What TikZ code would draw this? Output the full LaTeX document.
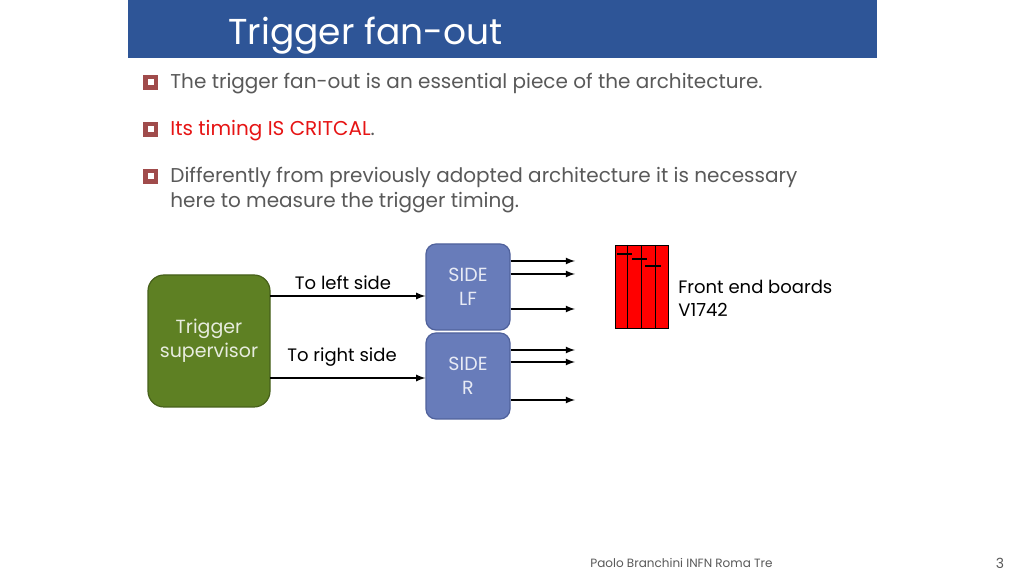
\documentclass[tikz,border=0pt]{standalone}
\usepackage{fontspec}
\setmainfont{Poppins}
\usetikzlibrary{positioning}
\definecolor{titleblue}{RGB}{46,85,151}
\definecolor{bulletred}{RGB}{160,75,75}
\definecolor{bodygray}{RGB}{89,89,89}
\definecolor{supgreen}{RGB}{94,128,35}
\definecolor{supedge}{RGB}{70,96,26}
\definecolor{sideblue}{RGB}{104,124,186}
\definecolor{sideedge}{RGB}{80,98,156}
\definecolor{critred}{RGB}{230,20,20}
\tikzset{
  bodytext/.style={anchor=base west, inner sep=0pt, text=bodygray, font=\fontsize{10}{12}\selectfont},
  sidebox/.style={draw=sideedge, fill=sideblue, rounded corners=5pt, minimum width=42pt, minimum height=43pt,
    text=white!85!sideblue, align=center, font=\fontsize{9.5}{12}\selectfont, line width=0.6pt},
  labeltext/.style={inner sep=0pt, font=\fontsize{9}{11}\selectfont},
  sig/.style={-latex, line width=0.6pt}
}
\newcommand{\bulletbox}[1]{%
  \fill[bulletred] (143,#1-7) rectangle (158,#1+8);
  \fill[white] (147.5,#1-2.5) rectangle (153.5,#1+3.5);}
\begin{document}
\begin{tikzpicture}[x=0.5pt,y=-0.5pt]
\useasboundingbox (0,0) rectangle (1024,576);
\fill[white] (0,0) rectangle (1024,576);

% Title bar
\fill[titleblue] (128,0) rectangle (877,58);
\node[anchor=base west, inner sep=0pt, text=white, font=\fontsize{18}{22}\selectfont] (title) at (228,45) {Trigger fan-out};

% Bullets
\bulletbox{82}
\node[bodytext] (b1) at (170,89) {The trigger fan-out is an essential piece of the architecture.};
\bulletbox{129}
\node[bodytext, text=critred] (b2) at (170,136) {Its timing IS CRITCAL\textcolor{bodygray}{.}};
\bulletbox{176}
\node[bodytext] (b3) at (170,183) {Differently from previously adopted architecture it is necessary};
\node[bodytext] (b3b) at (170,208) {here to measure the trigger timing.};

% Boxes
\node[draw=supedge, fill=supgreen, rounded corners=8pt, minimum width=61pt, minimum height=66pt,
  text=white!85!supgreen, align=center, font=\fontsize{9.5}{12}\selectfont, line width=0.6pt]
  (sup) at (209,341) {Trigger\\supervisor};
\node[sidebox] (lf) at (468,287) {SIDE\\LF};
\node[sidebox] (r) at (468,376) {SIDE\\R};

% Inputs
\draw[sig] (270,296) -- (lf.west |- 0,296);
\draw[sig] (270,378) -- (r.west |- 0,378);
\node[labeltext] (tl) at (343,283) {To left side};
\node[labeltext] (tr) at (342,357) {To right side};

% Outputs
\foreach \y in {261,274,309}{\draw[sig] (lf.east |- 0,\y) -- (575,\y);}
\foreach \y in {350,362,400}{\draw[sig] (r.east |- 0,\y) -- (575,\y);}

% Front end boards
\fill[red] (615,245) rectangle (668,328);
\draw[line width=0.4pt] (615,245) rectangle (668,328);
\foreach \x in {627,641,655}{\draw[line width=0.5pt] (\x,245) -- (\x,328);}
\draw[line width=1.2pt] (617,254) -- (632,254) (632,259) -- (647,259) (645,266) -- (661,266);
\node[labeltext, anchor=base west] (fe) at (678,294) {Front end boards};
\node[labeltext, anchor=base west] (fe2) at (678,317) {V1742};

% Footer
\node[anchor=base west, inner sep=0pt, text=bodygray, font=\fontsize{6}{7}\selectfont] (foot) at (590,568) {Paolo Branchini INFN Roma Tre};
\node[anchor=base, inner sep=0pt, text=bodygray, font=\fontsize{7}{8}\selectfont] (pg) at (1000,569) {3};
\end{tikzpicture}
\end{document}
